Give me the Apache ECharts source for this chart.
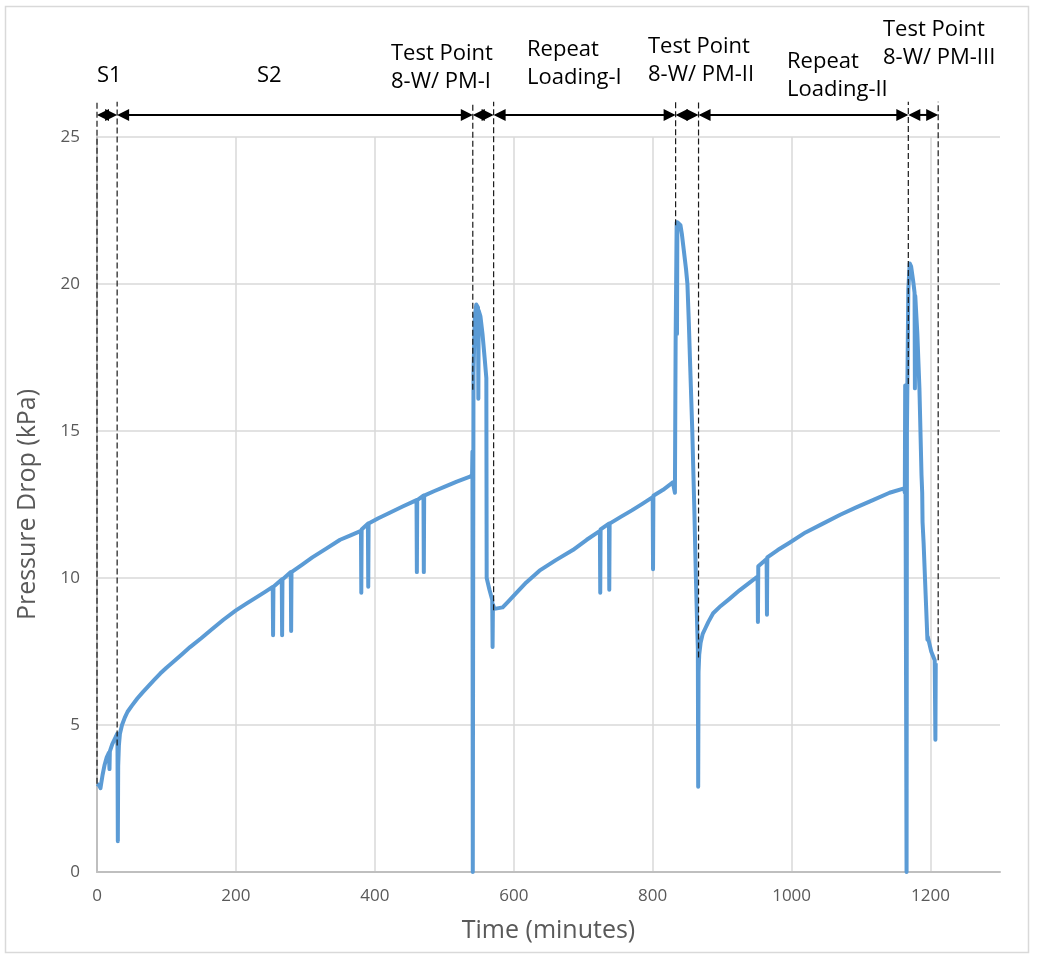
<!DOCTYPE html>
<html>
<head>
<meta charset="utf-8">
<script src="https://cdn.jsdelivr.net/npm/echarts@6/dist/echarts.min.js"></script>
<style>
  html, body { margin: 0; padding: 0; background: #ffffff; }
  #chart { width: 1037px; height: 956px; }
</style>
</head>
<body>
<div id="chart"></div>
<script>
// Elapsed test time (minutes) and the measured filter pressure drop (kPa).
const timeMin = [
  0, 3, 5, 6, 8, 11, 14, 17, 18, 18.5, 22, 26, 29, 29.5, 30, 30.5, 31.5, 33, 36, 40,
  44, 50, 58, 66, 75, 83, 91, 100, 110, 122, 134, 150, 165, 182, 200, 215, 230, 242,
  253, 253.5, 254, 266, 266.5, 267, 279, 279.5, 280, 295, 310, 330, 350, 365,
  380, 380.5, 381, 390, 390.5, 391, 405, 420, 440, 460, 460.5, 461, 470, 470.5, 471,
  485, 500, 518, 537, 540, 540.5, 541, 542, 544, 546, 548.5, 549, 549.5, 552, 555, 558,
  560.5, 561, 565, 569, 569.5, 570, 572, 584, 592, 600, 618, 637, 660, 685, 705,
  724, 724.5, 725, 737, 737.5, 738, 754, 770, 785, 800, 800.5, 801, 815, 829, 831, 832,
  833, 834.5, 835, 835.5, 838, 840, 842, 844, 846, 848, 850, 852, 854, 857, 860, 862,
  864, 865, 865.5, 866, 867, 869, 872, 876, 880, 887, 898, 911, 925, 940, 951, 951.5,
  952, 964, 964.5, 965, 980, 997, 1020, 1045, 1070, 1093, 1117, 1141, 1162, 1163, 1163.5,
  1164, 1165, 1165.5, 1166, 1168, 1170, 1172, 1175, 1177, 1177.5, 1178, 1181, 1184, 1187,
  1188, 1188.5, 1190, 1193, 1195, 1195.5, 1196, 1201, 1206, 1207, 1207.5
];
const pressureKPa = [
  3.0, 2.95, 2.85, 3.0, 3.3, 3.65, 3.9, 4.05, 3.5, 4.1, 4.35, 4.55, 4.7, 4.3, 1.05, 3.6, 4.3, 4.7, 5.0, 5.25,
  5.45, 5.65, 5.9, 6.12, 6.35, 6.55, 6.75, 6.95, 7.15, 7.4, 7.65, 7.95, 8.25, 8.58, 8.9, 9.13, 9.35, 9.53,
  9.7, 8.05, 9.7, 9.95, 8.05, 9.95, 10.2, 8.2, 10.2, 10.45, 10.7, 11.0, 11.3, 11.45,
  11.6, 9.5, 11.65, 11.85, 9.7, 11.85, 12.03, 12.2, 12.43, 12.65, 10.2, 12.65, 12.8, 10.2, 12.8,
  12.95, 13.1, 13.28, 13.45, 13.5, 14.3, 0, 17.0, 18.9, 19.3, 19.2, 16.1, 19.1, 18.9, 18.3, 17.5,
  16.8, 10.0, 9.6, 9.25, 7.65, 9.1, 8.95, 9.0, 9.2, 9.4, 9.85, 10.25, 10.6, 10.95, 11.3,
  11.6, 9.5, 11.65, 11.85, 9.6, 11.85, 12.08, 12.3, 12.52, 12.75, 10.3, 12.8, 13.0, 13.25, 13.25, 12.9,
  18.0, 22.1, 18.3, 22.1, 22.1, 22.0, 21.7, 21.3, 20.9, 20.5, 20.0, 18.7, 17.2, 15.0, 12.3, 10.2,
  8.4, 7.6, 2.9, 6.8, 7.4, 7.8, 8.1, 8.3, 8.5, 8.8, 9.05, 9.3, 9.58, 9.85, 10.05, 8.5,
  10.4, 10.65, 8.75, 10.7, 10.95, 11.2, 11.55, 11.85, 12.15, 12.4, 12.65, 12.9, 13.05, 12.9, 16.55,
  13.1, 13.1, 0, 15.0, 19.8, 20.7, 20.6, 20.1, 19.7, 16.45, 19.6, 18.3, 16.45, 13.5,
  12.9, 11.9, 11.2, 9.4, 8.2, 7.9, 8.0, 7.5, 7.2, 4.5, 7.1
];

// Phase boundaries (minutes) and the pressure where each boundary marker meets the trace.
const phaseBounds = [0, 29, 541, 571, 833, 866, 1168, 1211];
const phaseBoundLow = [3.0, 4.3, 16.4, 8.9, 22.0, 7.3, 16.6, 7.2];
const phaseLabels = [
  'S1', 'S2', 'Test Point\n8-W/ PM-I', 'Repeat\nLoading-I',
  'Test Point\n8-W/ PM-II', 'Repeat\nLoading-II', 'Test Point\n8-W/ PM-III'
];

// Axis ranges and tick steps.
const xRange = [0, 1300];
const xStep = 200;
const yRange = [0, 25];
const yStep = 5;

const TEXT_FONT = '"Open Sans", "Noto Sans", sans-serif';
const ARROW_LEVEL = 25.75;   // kPa level of the phase arrows
const DASH_TOP = 26.2;       // kPa level where boundary dashes stop

// Left edge / top of each phase label block, in pixels.
const labelAnchors = [
  [97, 62], [257, 62], [391, 40], [527, 36], [648, 33], [787, 48], [883, 16]
];

const seriesData = timeMin.map((t, i) => [t, pressureKPa[i]]);

const chart = echarts.init(document.getElementById('chart'), null, { renderer: 'canvas' });

const option = {
  animation: false,
  backgroundColor: '#ffffff',
  grid: { left: 97, right: 37, top: 137, bottom: 84 },
  xAxis: {
    type: 'value',
    min: xRange[0], max: xRange[1], interval: xStep,
    name: 'Time (minutes)',
    nameLocation: 'middle',
    nameGap: 46,
    nameTextStyle: { color: '#595959', fontFamily: TEXT_FONT, fontSize: 25 },
    axisLine: { lineStyle: { color: '#bfbfbf', width: 2 } },
    axisTick: { show: false },
    axisLabel: {
      showMaxLabel: false, margin: 16, color: '#595959', fontFamily: TEXT_FONT, fontSize: 17,
      formatter: (v) => String(v)
    },
    splitLine: { show: true, showMaxLine: false, lineStyle: { color: '#d9d9d9', width: 1.5 } }
  },
  yAxis: {
    type: 'value',
    min: yRange[0], max: yRange[1], interval: yStep,
    name: 'Pressure Drop (kPa)',
    nameLocation: 'middle',
    nameGap: 57,
    nameTextStyle: { color: '#595959', fontFamily: TEXT_FONT, fontSize: 25 },
    axisLine: { show: true, lineStyle: { color: '#bfbfbf', width: 2 } },
    axisTick: { show: false },
    axisLabel: {
      margin: 17, color: '#595959', fontFamily: TEXT_FONT, fontSize: 17,
      formatter: (v) => String(v)
    },
    splitLine: { show: true, lineStyle: { color: '#d9d9d9', width: 1.5 } }
  },
  series: [
    {
      type: 'line',
      data: seriesData,
      showSymbol: false,
      symbol: 'none',
      lineStyle: { color: '#5b9bd5', width: 4, join: 'round' },
      z: 2
    },
    {
      // Dashed phase boundaries and the double-headed arrows between them.
      type: 'custom',
      coordinateSystem: 'cartesian2d',
      clip: false,
      silent: true,
      z: 5,
      data: phaseBounds.map((t, i) => [t, phaseBoundLow[i]]),
      encode: { x: 0, y: 1 },
      renderItem: function (params, api) {
        const i = params.dataIndex;
        const t = api.value(0);
        const low = api.value(1);
        const pLow = api.coord([t, low]);
        const pTop = api.coord([t, DASH_TOP]);
        const children = [{
          type: 'line',
          shape: { x1: pLow[0], y1: pLow[1], x2: pTop[0], y2: pTop[1] },
          style: { stroke: '#1a1a1a', lineWidth: 1.2, lineDash: [6, 3] }
        }];
        if (i < phaseBounds.length - 1) {
          const a = api.coord([t, ARROW_LEVEL]);
          const b = api.coord([phaseBounds[i + 1], ARROW_LEVEL]);
          const L = 12, H = 6;
          const y = a[1];
          children.push({
            type: 'line',
            shape: { x1: a[0] + 2, y1: y, x2: b[0] - 2, y2: y },
            style: { stroke: '#000000', lineWidth: 2 }
          });
          children.push({
            type: 'polygon',
            shape: { points: [[a[0], y], [a[0] + L, y - H], [a[0] + L, y + H]] },
            style: { fill: '#000000' }
          });
          children.push({
            type: 'polygon',
            shape: { points: [[b[0], y], [b[0] - L, y - H], [b[0] - L, y + H]] },
            style: { fill: '#000000' }
          });
        }
        return { type: 'group', children: children };
      }
    }
  ],
  graphic: [
    {
      type: 'rect',
      shape: { x: 5.5, y: 6.5, width: 1023, height: 946 },
      style: { fill: null, stroke: '#d9d9d9', lineWidth: 1.5 },
      silent: true
    }
  ].concat(phaseLabels.map((txt, i) => ({
    type: 'text',
    x: labelAnchors[i][0],
    y: labelAnchors[i][1],
    silent: true,
    style: {
      text: txt,
      fill: '#000000',
      font: '22px ' + TEXT_FONT,
      lineHeight: 28,
      align: 'left',
      verticalAlign: 'top'
    }
  })))
};

chart.setOption(option);
</script>
</body>
</html>
